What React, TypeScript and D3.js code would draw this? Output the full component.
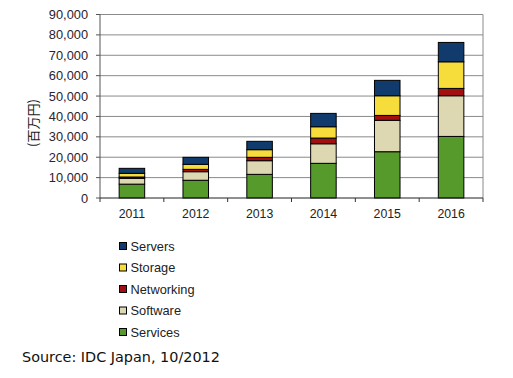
import React from "react";
import * as d3 from "d3";

const years = ["2011", "2012", "2013", "2014", "2015", "2016"];
const seriesNames = ["Services", "Software", "Networking", "Storage", "Servers"];
const services = [6800, 8700, 11600, 17000, 22700, 30200];
const software = [2850, 4200, 6700, 9600, 15400, 19950];
const networking = [650, 1150, 1650, 2800, 2400, 3600];
const storage = [1800, 2450, 3750, 5550, 9650, 13050];
const servers = [2450, 3450, 4100, 6550, 7550, 9500];
const colors = ["#569A2B", "#DDD7B2", "#A30F10", "#F6DD3C", "#113B6C"];
const yTicks = [0, 10000, 20000, 30000, 40000, 50000, 60000, 70000, 80000, 90000];
const legendOrder = ["Servers", "Storage", "Networking", "Software", "Services"];

export default function App() {
  const W = 513, H = 378;
  const left = 100, right = 483, top = 14.5, bottom = 198;
  const rows = years.map((y, i) => ({
    year: y,
    Services: services[i],
    Software: software[i],
    Networking: networking[i],
    Storage: storage[i],
    Servers: servers[i],
  }));
  const stacked = d3.stack<any>().keys(seriesNames)(rows);
  const x = d3.scaleBand().domain(years).range([left, right]).paddingInner(0.6).paddingOuter(0.3);
  const xStep = (right - left) / years.length;
  const y = d3.scaleLinear().domain([0, 90000]).range([bottom, top]);
  const fmt = d3.format(",");
  return (
    <svg width={W} height={H} style={{ position: "absolute", left: 0, top: 0, background: "#fff" }}>
      {yTicks.map((t) => (
        <g key={t}>
          {t > 0 && (
            <line x1={left} x2={right} y1={y(t)} y2={y(t)} stroke="#8a8a8a" strokeWidth={1} />
          )}
          <line x1={left - 4} x2={left} y1={y(t)} y2={y(t)} stroke="#555" strokeWidth={1} />
          <text x={88} y={y(t)} dy="0.36em" textAnchor="end" fontFamily="Liberation Sans, Arial" fontSize={12.8} fill="#2a2230">
            {fmt(t)}
          </text>
        </g>
      ))}
      <line x1={right} x2={right} y1={y(90000)} y2={bottom} stroke="#8a8a8a" strokeWidth={1} />
      {stacked.map((s, si) =>
        s.map((d, i) => (
          <rect
            key={si + "-" + i}
            x={x(years[i])!}
            width={x.bandwidth()}
            y={y(d[1])}
            height={y(d[0]) - y(d[1])}
            fill={colors[si]}
            stroke="#000"
            strokeWidth={1}
          />
        ))
      )}
      <line x1={left} x2={left} y1={y(90000)} y2={bottom} stroke="#555" strokeWidth={1} />
      <line x1={left} x2={right} y1={bottom} y2={bottom} stroke="#222" strokeWidth={1.2} />
      {d3.range(years.length + 1).map((k) => (
        <line key={k} x1={left + k * xStep} x2={left + k * xStep} y1={bottom} y2={bottom + 4} stroke="#333" />
      ))}
      {years.map((yr) => (
        <text key={yr} x={x(yr)! + x.bandwidth() / 2} y={218} textAnchor="middle" fontFamily="Liberation Sans, Arial" fontSize={12.3} fill="#222">
          {yr}
        </text>
      ))}
      <text
        transform={`translate(38,123) rotate(-90)`}
        textAnchor="middle"
        fontFamily="Noto Sans CJK JP"
        fontSize={13}
        fill="#222"
      >
        (百万円)
      </text>
      {legendOrder.map((name, i) => {
        const ci = seriesNames.indexOf(name);
        const cy = 246 + i * 21.5;
        return (
          <g key={name}>
            <rect x={119.5} y={cy - 3.5} width={7} height={7} fill={colors[ci]} stroke="#000" strokeWidth={1} />
            <text x={130.5} y={cy} dy="0.36em" fontFamily="Liberation Sans, Arial" fontSize={12.8} fill="#222">
              {name}
            </text>
          </g>
        );
      })}
      <text x={22} y={362} fontFamily="DejaVu Sans, Verdana" fontSize={14.4} fill="#111">
        Source: IDC Japan, 10/2012
      </text>
    </svg>
  );
}
